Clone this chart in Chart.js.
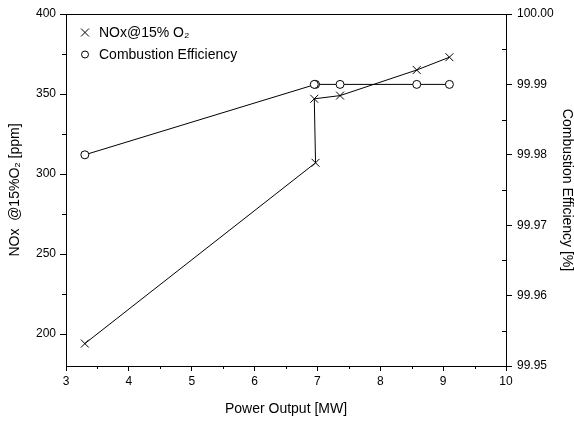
<!DOCTYPE html>
<html>
<head>
<meta charset="utf-8">
<title>NOx and Combustion Efficiency vs Power Output</title>
<script src="https://cdn.jsdelivr.net/npm/chart.js@4/dist/chart.umd.min.js"></script>
<style>
  html, body { margin: 0; padding: 0; background: #fff; }
  canvas { display: block; }
</style>
</head>
<body>
<canvas id="chart" width="574" height="422"></canvas>
<script>
// Measured operating points
const powerOutput = [3.30, 6.97, 6.95, 7.36, 8.58, 9.10];          // MW
const noxPpm      = [194, 307, 347, 349, 365, 373];                 // ppm @15% O2
const efficiency  = [99.980, 99.990, 99.990, 99.990, 99.990, 99.990]; // %

// Axis tick labels
const xTicks     = [3, 4, 5, 6, 7, 8, 9, 10];
const noxTicks   = [200, 250, 300, 350, 400];
const effTicks   = [99.95, 99.96, 99.97, 99.98, 99.99, 100.00];

const FONT = "'Liberation Sans', Arial, Helvetica, sans-serif";
Chart.defaults.font.family = FONT;
Chart.defaults.color = '#000';

const toPoints = (xs, ys) => xs.map((x, i) => ({ x: x, y: ys[i] }));
const setTicks = vals => scale => { scale.ticks = vals.map(v => ({ value: v })); };

// Minor tick marks halfway between labelled ticks; inward on the right axis
const minorTicks = {
  id: 'minorTicks',
  afterDraw(chart) {
    const ctx = chart.ctx;
    const s = chart.scales;
    ctx.save();
    ctx.strokeStyle = '#000';
    ctx.lineWidth = 1;
    ctx.beginPath();
    const mids = vals => vals.slice(1).map((v, i) => (v + vals[i]) / 2);
    mids(xTicks).forEach(v => {
      const px = Math.round(s.x.getPixelForValue(v)) + 0.5;
      ctx.moveTo(px, s.x.top); ctx.lineTo(px, s.x.top + 3);
    });
    mids(noxTicks).concat([175]).forEach(v => {
      if (v < s.y.min) return;
      const py = Math.round(s.y.getPixelForValue(v)) + 0.5;
      ctx.moveTo(s.y.right, py); ctx.lineTo(s.y.right - 4, py);
    });
    mids(effTicks).forEach(v => {
      const py = Math.round(s.y1.getPixelForValue(v)) + 0.5;
      ctx.moveTo(s.y1.left, py); ctx.lineTo(s.y1.left - 4, py);
    });
    ctx.stroke();
    // top frame line
    const a = chart.chartArea;
    ctx.beginPath();
    ctx.moveTo(a.left, Math.round(a.top) + 0.5);
    ctx.lineTo(a.right, Math.round(a.top) + 0.5);
    ctx.stroke();
    ctx.restore();
  }
};

// Legend stacked in the upper-left corner of the plot
const cornerLegend = {
  id: 'cornerLegend',
  afterDraw(chart) {
    const ctx = chart.ctx;
    const a = chart.chartArea;
    ctx.save();
    ctx.font = '14px ' + FONT;
    ctx.textBaseline = 'middle';
    ctx.textAlign = 'left';
    chart.data.datasets.forEach((ds, i) => {
      const y = a.top + 18.5 + i * 22;
      const x = a.left + 19;
      ctx.strokeStyle = '#000';
      ctx.fillStyle = '#fff';
      ctx.lineWidth = 1;
      Chart.helpers.drawPoint(ctx, {
        pointStyle: ds.pointStyle,
        radius: ds.pointStyle === 'circle' ? 3.5 : 5.6,
        rotation: 0,
        borderWidth: 1
      }, x, y);
      ctx.fillStyle = '#000';
      ctx.fillText(ds.label, a.left + 33, y + 0.5);
    });
    ctx.restore();
  }
};

new Chart(document.getElementById('chart'), {
  type: 'scatter',
  data: {
    datasets: [
      {
        label: 'NOx@15% O\u2082',
        data: toPoints(powerOutput, noxPpm),
        yAxisID: 'y',
        showLine: true,
        borderColor: '#000',
        borderWidth: 1,
        backgroundColor: '#000',
        pointStyle: 'crossRot',
        pointRadius: 5.6,
        pointBorderWidth: 1,
        pointBorderColor: '#000',
        tension: 0
      },
      {
        label: 'Combustion Efficiency',
        data: toPoints(powerOutput, efficiency),
        yAxisID: 'y1',
        showLine: true,
        borderColor: '#000',
        borderWidth: 1,
        backgroundColor: '#fff',
        pointStyle: 'circle',
        pointRadius: 4,
        pointBorderWidth: 1,
        pointBorderColor: '#000',
        pointBackgroundColor: '#fff',
        tension: 0
      }
    ]
  },
  options: {
    responsive: false,
    animation: false,
    layout: { padding: { top: 14, left: 0, right: 0, bottom: 0 } },
    plugins: {
      legend: { display: false },
      tooltip: { enabled: false }
    },
    scales: {
      x: {
        type: 'linear',
        position: 'bottom',
        min: 3,
        max: 10,
        afterBuildTicks: setTicks(xTicks),
        afterFit: s => { s.height = 56; },
        ticks: { font: { size: 12 }, padding: 3, maxRotation: 0 },
        grid: { display: true, drawOnChartArea: false, drawTicks: true, tickLength: 5, color: '#000' },
        border: { display: true, color: '#000', width: 1 },
        title: {
          display: true,
          text: 'Power Output [MW]',
          font: { size: 14, lineHeight: 1 },
          padding: { top: 0, bottom: 6 }
        }
      },
      y: {
        type: 'linear',
        position: 'left',
        min: 180,
        max: 400,
        afterBuildTicks: setTicks(noxTicks),
        afterFit: s => { s.width = 66; },
        ticks: { font: { size: 12 }, padding: 4 },
        grid: { display: true, drawOnChartArea: false, drawTicks: true, tickLength: 6, color: '#000' },
        border: { display: true, color: '#000', width: 1 },
        title: {
          display: true,
          text: 'NOx  @15%O\u2082 [ppm]',
          font: { size: 14, lineHeight: 1 },
          padding: { top: 8, bottom: 0 }
        }
      },
      y1: {
        type: 'linear',
        position: 'right',
        min: 99.95,
        max: 100.00,
        afterBuildTicks: setTicks(effTicks),
        afterFit: s => { s.width = 68; },
        ticks: { font: { size: 12 }, padding: 5, callback: v => Number(v).toFixed(2) },
        grid: { display: true, drawOnChartArea: false, drawTicks: true, tickLength: 6, color: '#000' },
        border: { display: true, color: '#000', width: 1 },
        title: {
          display: true,
          text: 'Combustion Efficiency [%]',
          font: { size: 14, lineHeight: 1 },
          padding: { top: 0, bottom: 0 }
        }
      }
    }
  },
  plugins: [minorTicks, cornerLegend]
});
</script>
</body>
</html>
